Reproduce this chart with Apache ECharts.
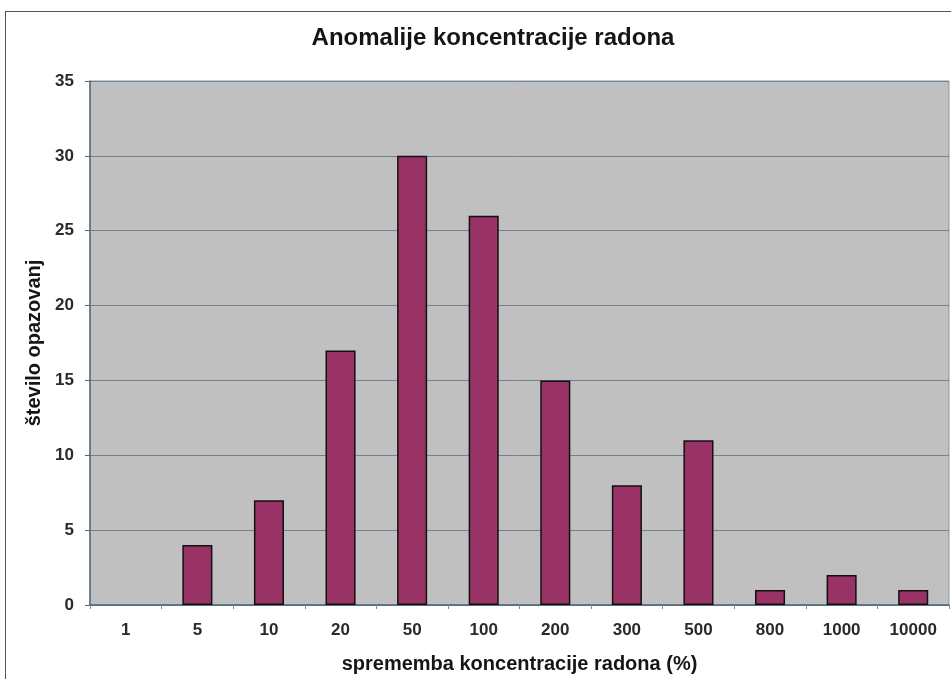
<!DOCTYPE html>
<html><head><meta charset="utf-8">
<script src="https://cdn.jsdelivr.net/npm/echarts@6/dist/echarts.min.js"></script>
<style>html,body{margin:0;padding:0;background:#fff}#c{width:951px;height:679px}
#frame{position:absolute;left:5px;top:11px;width:960px;height:680px;border:1.5px solid #555;box-sizing:border-box;pointer-events:none}</style>
</head><body><div id="c"></div><div id="frame"></div>
<script>
const categories = ['1','5','10','20','50','100','200','300','500','800','1000','10000'];
const values = [0,4,7,17,30,26,15,8,11,1,2,1];
const chart = echarts.init(document.getElementById('c'));
const FF = 'Liberation Sans, Arial';
const barData = values.map(v => v === 0 ? {value: v, itemStyle: {borderWidth: 0}} : v);
chart.setOption({
  animation:false,
  backgroundColor:'#fff',
  title:{text:'Anomalije koncentracije radona',left:488,textAlign:'center',top:21,
    textStyle:{fontFamily:FF,fontSize:24,fontWeight:'bold',color:'#151515'}},
  grid:{left:90,right:2,top:81,bottom:73,show:true,backgroundColor:'#c0c0c0',borderColor:'#8a9aa8',borderWidth:1},
  xAxis:{type:'category',data:categories,
    axisLine:{lineStyle:{color:'#506878',width:1.5}},
    axisTick:{show:true,length:4,lineStyle:{color:'#7a8c9a'}},
    axisLabel:{margin:17,fontFamily:FF,fontSize:17,fontWeight:'bold',color:'#2a2a2a'},
    name:'sprememba koncentracije radona (%)',nameLocation:'middle',nameGap:49,
    nameTextStyle:{fontFamily:FF,fontSize:20,fontWeight:'bold',color:'#151515'}},
  yAxis:{type:'value',min:0,max:35,interval:5,
    axisLine:{show:true,lineStyle:{color:'#506878',width:1.5}},
    axisTick:{show:true,length:5,lineStyle:{color:'#506878'}},
    splitLine:{lineStyle:{color:'#6f8393',width:1}},
    axisLabel:{margin:16,fontFamily:FF,fontSize:17,fontWeight:'bold',color:'#2a2a2a'},
    name:'število opazovanj',nameLocation:'middle',nameGap:46,
    nameTextStyle:{fontFamily:FF,fontSize:20,fontWeight:'bold',color:'#151515'}},
  series:[{type:'bar',data:barData,barWidth:'42%',
    itemStyle:{color:'#993366',borderColor:'#111',borderWidth:1.5}}]
});
</script></body></html>
